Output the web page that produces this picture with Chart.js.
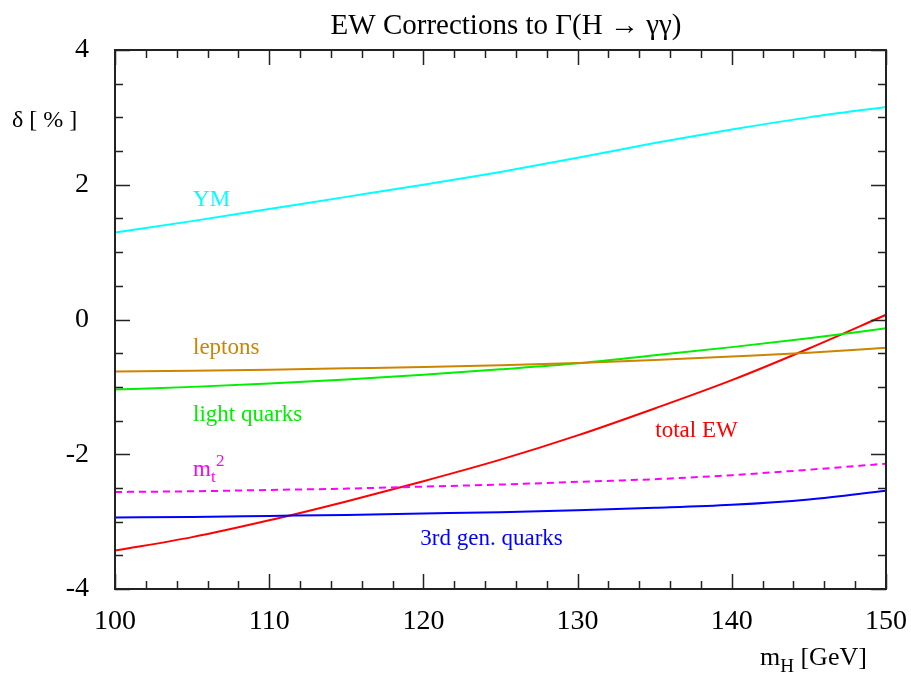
<!DOCTYPE html>
<html>
<head>
<meta charset="utf-8">
<script src="https://cdn.jsdelivr.net/npm/chart.js@4"></script>
<style>
  html, body { margin: 0; padding: 0; background: #fff; overflow: hidden; }
  canvas { display: block; }
</style>
</head>
<body>
<canvas id="ew" width="911" height="673"></canvas>
<script>
const massH = [100, 105, 110, 115, 120, 125, 130, 135, 140, 145, 150]

const ymVals      = [1.29, 1.46, 1.64, 1.82, 2.00, 2.19, 2.40, 2.62, 2.82, 3.00, 3.155]
const leptonVals  = [-0.77, -0.76, -0.745, -0.725, -0.705, -0.68, -0.645, -0.60, -0.55, -0.495, -0.42]
const lightQVals  = [-1.04, -1.00, -0.95, -0.89, -0.82, -0.74, -0.65, -0.53, -0.41, -0.28, -0.13]
const totalVals   = [-3.43, -3.23, -2.98, -2.70, -2.40, -2.08, -1.72, -1.32, -0.90, -0.43, 0.07]
const mt2Vals     = [-2.56, -2.55, -2.53, -2.51, -2.48, -2.45, -2.41, -2.37, -2.31, -2.23, -2.14]
const thirdGenVals= [-2.94, -2.93, -2.915, -2.90, -2.88, -2.86, -2.83, -2.795, -2.75, -2.67, -2.54]

const yTickLabels = [-4, -2, 0, 2, 4]
const xTickLabels = [100, 110, 120, 130, 140, 150]

const SERIF = "'Liberation Serif', 'DejaVu Serif', serif"

function pts(vals) {
  return massH.map((m, i) => ({x: m, y: vals[i]}))
}

// curve labels, placed in data coordinates
const curveLabels = [
  {text: "YM", x: 105.06, y: 1.68, color: "#00ffff"},
  {text: "leptons", x: 105.06, y: -0.505, color: "#cd8500"},
  {text: "light quarks", x: 105.06, y: -1.50, color: "#00ee00"},
  {text: "total EW", x: 135.04, y: -1.74, color: "#ff0000"},
  {text: "3rd gen. quarks", x: 119.8, y: -3.34, color: "#0000ff"},
]

const frame = {
  id: "frame",
  afterDraw(chart) {
    const {ctx, chartArea: a, scales: {x, y}} = chart
    ctx.save()
    ctx.strokeStyle = "#222"
    ctx.lineWidth = 1.5
    // inward ticks
    ctx.beginPath()
    for (let v = -4; v <= 4.001; v += 0.5) {
      const py = Math.round(y.getPixelForValue(v)) + 0.5
      const len = (Math.abs(v % 2) < 0.01) ? 15 : 8
      ctx.moveTo(a.left, py); ctx.lineTo(a.left + len, py)
      ctx.moveTo(a.right, py); ctx.lineTo(a.right - len, py)
    }
    for (let m = 100; m <= 150; m += 2) {
      const px = Math.round(x.getPixelForValue(m)) + 0.5
      const len = (m % 10 === 0) ? 15 : 8
      ctx.moveTo(px, a.bottom); ctx.lineTo(px, a.bottom - len)
      ctx.moveTo(px, a.top); ctx.lineTo(px, a.top + len)
    }
    ctx.stroke()
    ctx.lineWidth = 2
    ctx.strokeRect(a.left, a.top, a.right - a.left, a.bottom - a.top)

    // title
    ctx.fillStyle = "#000"
    ctx.textAlign = "center"
    ctx.textBaseline = "alphabetic"
    ctx.font = "29px " + SERIF
    ctx.fillText("EW Corrections to \u0393(H \u2192 \u03b3\u03b3)", 506, 34)

    // y axis title
    ctx.textAlign = "left"
    ctx.font = "24px " + SERIF
    ctx.fillText("\u03b4 [ % ]", 12, 127)

    // x axis title
    ctx.font = "26px " + SERIF
    ctx.fillText("m", 760, 665)
    let w = ctx.measureText("m").width
    ctx.font = "19px " + SERIF
    ctx.fillText("H", 760 + w, 672)
    const w2 = ctx.measureText("H").width
    ctx.font = "26px " + SERIF
    ctx.fillText(" [GeV]", 760 + w + w2, 665)

    // curve labels
    ctx.font = "23px " + SERIF
    curveLabels.forEach(l => {
      ctx.fillStyle = l.color
      ctx.fillText(l.text, x.getPixelForValue(l.x), y.getPixelForValue(l.y))
    })
    // m_t^2
    const mx = x.getPixelForValue(105.06), my = y.getPixelForValue(-2.33)
    ctx.fillStyle = "#ff00ff"
    ctx.font = "23px " + SERIF
    ctx.fillText("m", mx, my)
    w = ctx.measureText("m").width
    ctx.font = "17px " + SERIF
    ctx.fillText("t", mx + w, my + 6)
    ctx.fillText("2", mx + w + 5, my - 10)
    ctx.restore()
  }
}

function line(vals, color, dash) {
  return {
    data: pts(vals),
    borderColor: color,
    borderWidth: 2,
    borderDash: dash || [],
    pointRadius: 0,
    fill: false,
    cubicInterpolationMode: "monotone"
  }
}

new Chart(document.getElementById("ew"), {
  type: "line",
  data: {
    datasets: [
      line(ymVals, "#00ffff"),
      line(leptonVals, "#cd8500"),
      line(lightQVals, "#00ee00"),
      line(mt2Vals, "#ff00ff", [7, 5]),
      line(thirdGenVals, "#0000ff"),
      line(totalVals, "#ff0000"),
    ]
  },
  options: {
    responsive: false,
    animation: false,
    layout: {padding: {left: 0, right: 25, top: 50, bottom: 0}},
    scales: {
      x: {
        type: "linear", min: 100, max: 150,
        afterFit(s) { s.height = 84; s.paddingLeft = 0; s.paddingRight = 0 },
        afterBuildTicks(s) { s.ticks = xTickLabels.map(v => ({value: v})) },
        grid: {display: false, drawTicks: false},
        border: {display: false},
        ticks: {color: "#000", padding: 16, font: {family: SERIF, size: 28}}
      },
      y: {
        type: "linear", min: -4, max: 4,
        afterFit(s) { s.width = 115; s.paddingTop = 0; s.paddingBottom = 0 },
        afterBuildTicks(s) { s.ticks = yTickLabels.map(v => ({value: v})) },
        grid: {display: false, drawTicks: false},
        border: {display: false},
        ticks: {color: "#000", padding: 26, font: {family: SERIF, size: 28}}
      }
    },
    plugins: {
      legend: {display: false},
      tooltip: {enabled: false},
      title: {display: false}
    }
  },
  plugins: [frame]
})
</script>
</body>
</html>
